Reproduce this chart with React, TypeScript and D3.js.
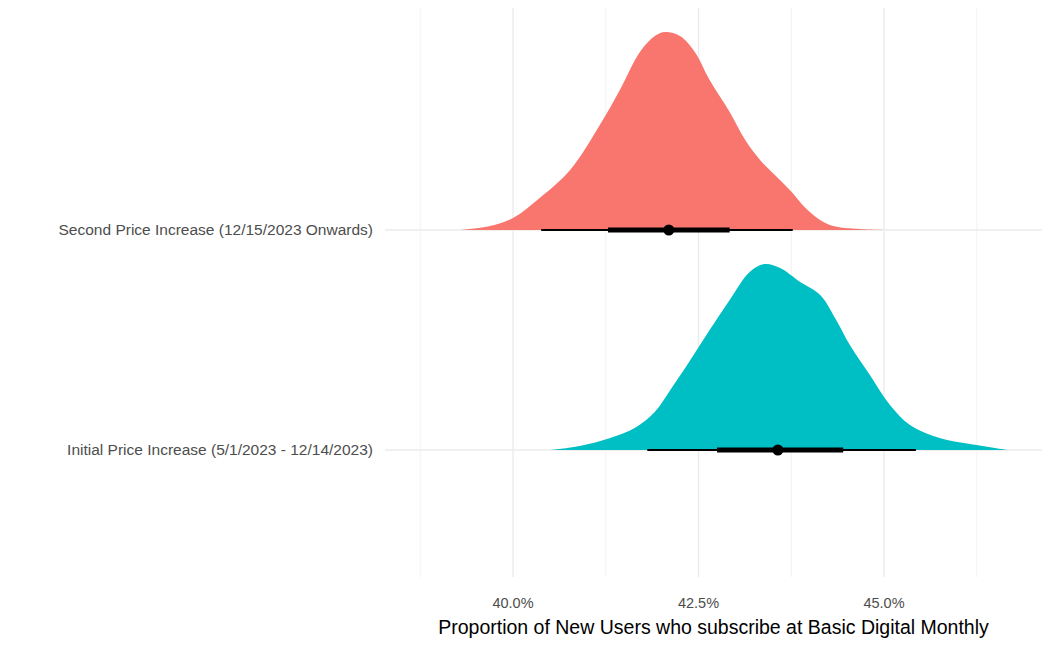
import React from "react";
import * as d3 from "d3";

const categories = ["Initial Price Increase (5/1/2023 - 12/14/2023)", "Second Price Increase (12/15/2023 Onwards)"];
const colors = ["#00BFC4", "#F8766D"];
const redX = [39.29,39.69,40.0,40.36,40.77,41.17,41.44,41.71,41.91,42.05,42.25,42.45,42.65,42.92,43.13,43.33,43.53,43.73,44.0,44.27,44.68,45.08];
const redD = [0,4,12,32,60,105,140,178,194,198,194,178,150,118,90,70,55,40,18,5,1,0];
const tealX = [40.5,40.9,41.31,41.64,41.91,42.12,42.39,42.65,42.92,43.19,43.39,43.6,43.87,44.14,44.34,44.54,44.81,45.08,45.35,45.75,46.16,46.67];
const tealD = [0,4,12,22,38,60,90,120,150,178,186,182,168,155,132,105,75,45,25,12,6,0];
const points = [43.57, 42.1];
const thick = [[42.75, 44.45], [41.28, 42.92]];
const thin = [[41.81, 45.43], [40.38, 43.77]];
const majorTicks = [40, 42.5, 45];
const minorTicks = [38.75, 41.25, 43.75, 46.25];

export default function App() {
  const x = d3.scaleLinear().domain([40, 45]).range([513, 884]);
  const y = d3.scaleLinear().domain([0, 1]).range([450, 230]);
  const h = d3.scaleLinear().domain([0, 200]).range([0, 200]);
  const dens = [tealX.map((v, i) => [v, tealD[i]]), redX.map((v, i) => [v, redD[i]])];
  const left = 385, right = 1042, top = 8, bottom = 577;
  return (
    <svg width={1050} height={648} style={{ position: "absolute", left: 0, top: 0, background: "#fff" }} fontFamily="Arial, Liberation Sans, sans-serif">
      {minorTicks.map(t => <line key={"m" + t} x1={x(t)} x2={x(t)} y1={top} y2={bottom} stroke="#f0f0f0" strokeWidth={0.8} />)}
      {majorTicks.map(t => <line key={"M" + t} x1={x(t)} x2={x(t)} y1={top} y2={bottom} stroke="#ebebeb" strokeWidth={1.4} />)}
      {[0, 1].map(i => <line key={"h" + i} x1={left} x2={right} y1={y(i)} y2={y(i)} stroke="#ebebeb" strokeWidth={1.4} />)}
      {dens.map((pts, i) => {
        const area = d3.area<number[]>().x(d => x(d[0])).y0(y(i)).y1(d => y(i) - h(d[1])).curve(d3.curveCatmullRom);
        return <path key={"d" + i} d={area(pts) || ""} fill={colors[i]} />;
      })}
      {[0, 1].map(i => (
        <g key={"iv" + i}>
          <line x1={x(thin[i][0])} x2={x(thin[i][1])} y1={y(i)} y2={y(i)} stroke="#000" strokeWidth={2} />
          <line x1={x(thick[i][0])} x2={x(thick[i][1])} y1={y(i)} y2={y(i)} stroke="#000" strokeWidth={5} />
          <circle cx={x(points[i])} cy={y(i)} r={5.5} fill="#000" />
        </g>
      ))}
      {categories.map((c, i) => <text key={c} x={373} y={y(i)} dy="0.35em" textAnchor="end" fontSize={15.5} fill="#4d4d4d">{c}</text>)}
      {majorTicks.map(t => <text key={"t" + t} x={x(t)} y={608} textAnchor="middle" fontSize={14.5} fill="#4d4d4d">{t.toFixed(1) + "%"}</text>)}
      <text x={(left + right) / 2 + 0} y={634} textAnchor="middle" fontSize={19.5} fill="#000">Proportion of New Users who subscribe at Basic Digital Monthly</text>
    </svg>
  );
}
